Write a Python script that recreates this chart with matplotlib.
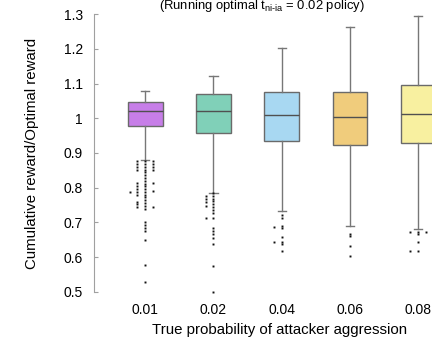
import matplotlib
matplotlib.use("Agg")
import matplotlib.pyplot as plt

plt.rcParams['font.family'] = ['Liberation Sans', 'DejaVu Sans']
plt.rcParams['mathtext.fontset'] = 'custom'
plt.rcParams['mathtext.rm'] = 'Liberation Sans'

# categories and box statistics
labels = ["0.01", "0.02", "0.04", "0.06", "0.08"]
colors = ["#C77EE8", "#80D0B8", "#A8D8F2", "#F0CC7C", "#F8F0A0"]
whis_hi = [1.079, 1.122, 1.202, 1.263, 1.294]
q3 = [1.046, 1.069, 1.076, 1.076, 1.095]
median = [1.020, 1.020, 1.008, 1.003, 1.012]
q1 = [0.978, 0.957, 0.935, 0.922, 0.928]
whis_lo = [0.880, 0.786, 0.734, 0.691, 0.680]

# outliers, grouped by the little column they are drawn in (-2 .. +1)
out_center = [
    [0.876, 0.868, 0.860, 0.852, 0.844, 0.836, 0.828, 0.820, 0.812, 0.804,
     0.796, 0.788, 0.780, 0.772, 0.764, 0.756, 0.748, 0.740, 0.701, 0.693,
     0.685, 0.676, 0.650, 0.578, 0.529],
    [0.785, 0.777, 0.769, 0.761, 0.753, 0.745, 0.737, 0.728, 0.712, 0.684,
     0.676, 0.667, 0.656, 0.637, 0.575, 0.501],
    [0.722, 0.712, 0.690, 0.683, 0.659, 0.645, 0.638, 0.619],
    [0.666, 0.660, 0.632, 0.604],
    [0.674, 0.668, 0.645, 0.619],
]
out_left = [
    [0.876, 0.868, 0.860, 0.852, 0.814, 0.805, 0.796, 0.787, 0.779, 0.759,
     0.752, 0.746],
    [0.776, 0.768, 0.760, 0.748, 0.712],
    [0.688, 0.645],
    [],
    [0.674, 0.619],
]
out_right = [
    [0.876, 0.868, 0.860, 0.852, 0.814, 0.790, 0.745],
    [], [], [],
    [0.674],
]
out_far_left = [[0.788], [], [], [], []]

fig = plt.figure(figsize=(4.32, 3.4), dpi=100)
ax = fig.add_axes([0.2176, 0.1412, 0.7824, 0.8176])

stats = []
for i in range(len(labels)):
    stats.append({"med": median[i], "q1": q1[i], "q3": q3[i],
                  "whislo": whis_lo[i], "whishi": whis_hi[i], "fliers": []})

pos = list(range(1, len(labels) + 1))
bp = ax.bxp(stats, positions=pos, widths=0.51, patch_artist=True,
            showfliers=False, capwidths=0.12,
            boxprops=dict(edgecolor="#6a6a6a", linewidth=1.0),
            whiskerprops=dict(color="#777777", linewidth=1.0),
            capprops=dict(color="#777777", linewidth=1.0),
            medianprops=dict(color="#505050", linewidth=1.0))
for patch, c in zip(bp["boxes"], colors):
    patch.set_facecolor(c)

step = 0.115
for i, p in enumerate(pos):
    for vals, col in [(out_center[i], 0), (out_left[i], -1),
                      (out_right[i], 1), (out_far_left[i], -2)]:
        if vals:
            ax.plot([p + col * step] * len(vals), vals, ls="none", marker="s",
                    ms=1.4, mfc="#111111", mec="none", clip_on=False)

ax.set_xlim(0.25, 5.2)
ax.set_ylim(0.5, 1.3)
ax.set_yticks([0.5, 0.6, 0.7, 0.8, 0.9, 1.0, 1.1, 1.2, 1.3])
ax.set_yticklabels(["0.5", "0.6", "0.7", "0.8", "0.9", "1", "1.1", "1.2", "1.3"])
ax.set_xticks(pos)
ax.set_xticklabels(labels)

for s in ["top", "right", "bottom"]:
    ax.spines[s].set_visible(False)
ax.spines["left"].set_color("#a0a0a0")
ax.tick_params(axis="y", direction="in", length=3, color="#a0a0a0",
               labelsize=10, pad=8)
ax.tick_params(axis="x", length=0, labelsize=10, pad=8)

ax.set_xlabel("True probability of attacker aggression", fontsize=10.8, labelpad=4)
ax.xaxis.label.set_x(0.55)
ax.set_ylabel("Cumulative reward/Optimal reward", fontsize=10.8, labelpad=18)

fig.text(0.607, 0.973, r"(Running optimal t$_{\mathregular{ni‐ia}}$ = 0.02 policy)",
         ha="center", va="baseline", fontsize=9.4)

fig.savefig("out.png", dpi=100)
